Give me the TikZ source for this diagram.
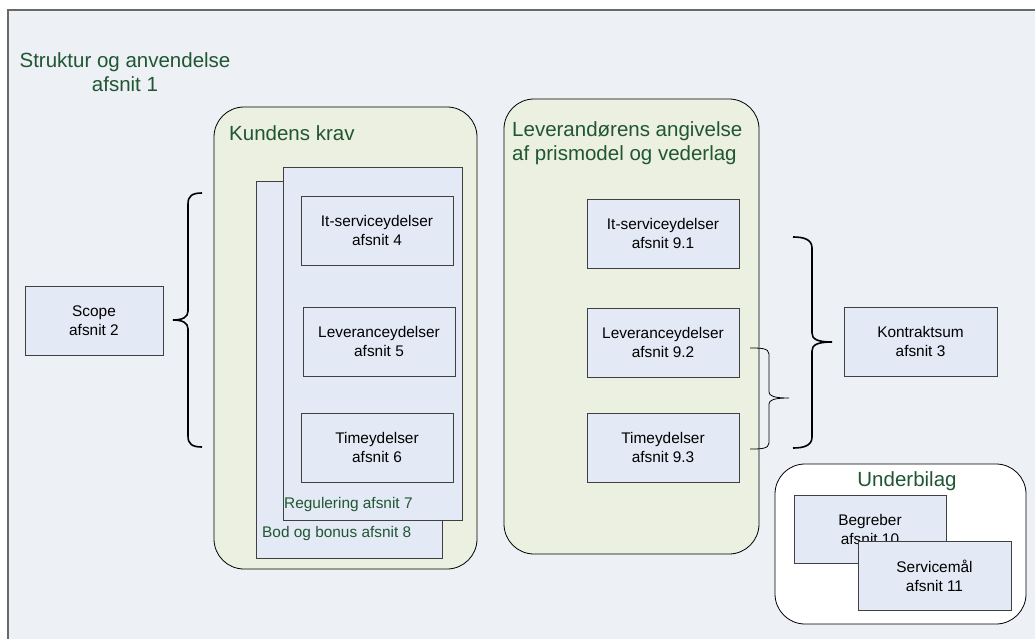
\documentclass[tikz,border=0pt]{standalone}
\usepackage{fontspec}
\setmainfont{Liberation Sans}
\definecolor{framefill}{RGB}{237,240,245}
\definecolor{greenfill}{RGB}{235,240,224}
\definecolor{boxfill}{RGB}{227,233,245}
\definecolor{titlegreen}{RGB}{32,86,50}
\definecolor{framedraw}{RGB}{105,105,105}
\begin{document}
\begin{tikzpicture}[x=1pt,y=-1pt,
  box/.style={draw=black!75,line width=0.8pt,fill=boxfill,minimum width=152pt,minimum height=69pt,align=center,inner sep=0pt,font=\fontsize{15.4}{19}\selectfont},
  sheet/.style={draw=black!75,line width=0.8pt,fill=boxfill,inner sep=0pt},
  group/.style={draw=black,line width=0.8pt,fill=greenfill,rounded corners=30pt,inner sep=0pt},
  bigtitle/.style={text=titlegreen,font=\fontsize{20.5}{24}\selectfont,inner sep=0pt},
  smalltitle/.style={text=titlegreen,font=\fontsize{15.4}{19}\selectfont,inner sep=0pt},
  bracethick/.style={draw=black,line width=1.6pt},
  bracethin/.style={draw=black,line width=0.8pt}]
\useasboundingbox (0,0) rectangle (1035,639);
\begin{scope}
\clip (0,0) rectangle (1035,639);
\draw[framedraw,line width=2pt,fill=framefill] (8,10) rectangle (1050,660);
\end{scope}
\node[bigtitle,align=center] (title) at (125,72) {Struktur og anvendelse\\afsnit 1};
% Kundens krav
\node[group,minimum width=263pt,minimum height=462pt] (kunden) at (345.5,338) {};
\node[bigtitle,anchor=west] (kundenlbl) at (229,133) {Kundens krav};
\node[sheet,minimum width=186pt,minimum height=377pt] (bod) at (349,369.5) {};
\node[sheet,minimum width=179pt,minimum height=353pt] (reg) at (372.5,343.5) {};
\node[smalltitle,anchor=west] (regl) at (284,505) {Regulering afsnit 7};
\node[smalltitle,anchor=west] (bodl) at (262,534) {Bod og bonus afsnit 8};
\node[box] (it4) at (377,230.5) {It-serviceydelser\\afsnit 4};
\node[box] (lev5) at (379,341.5) {Leveranceydelser\\afsnit 5};
\node[box] (time6) at (377,447.5) {Timeydelser\\afsnit 6};
% Leverandoer
\node[group,minimum width=255pt,minimum height=455pt] (lever) at (631.5,326.5) {};
\node[bigtitle,anchor=west,align=left] (leverlbl) at (512,143.5) {Leverandørens angivelse\\af prismodel og vederlag};
\node[box] (it91) at (663,233.5) {It-serviceydelser\\afsnit 9.1};
\node[box] (lev92) at (663,342.5) {Leveranceydelser\\afsnit 9.2};
\node[box] (time93) at (663,447.5) {Timeydelser\\afsnit 9.3};
% Scope
\node[box,minimum width=138pt] (scope) at (94,320.5) {Scope\\afsnit 2};
% Kontraktsum
\node[box,minimum width=153pt] (kontrakt) at (920.5,341.5) {Kontraktsum\\afsnit 3};
% Underbilag
\node[group,fill=white,minimum width=251pt,minimum height=160pt] (under) at (900.5,544) {};
\node[bigtitle] (underlbl) at (907,481) {Underbilag};
\node[box,minimum height=68pt] (begreber) at (870,529) {Begreber\\afsnit 10};
\node[box,minimum width=153pt] (service) at (934.5,575.5) {Servicemål\\afsnit 11};
% braces
\coordinate (lb1) at (202,193);
\coordinate (lbt) at (173,320);
\coordinate (lb2) at (202,447);
\draw[bracethick] (lb1) .. controls (192,193) and (188,196) .. (188,204) -- (188,311)
  .. controls (188,317) and (183,320) .. (lbt)
  .. controls (183,320) and (188,323) .. (188,329) -- (188,436)
  .. controls (188,444) and (192,447) .. (lb2);
\coordinate (rb1) at (793,237);
\coordinate (rbt) at (832,342);
\coordinate (rb2) at (793,448);
\draw[bracethick] (rb1) .. controls (803,237) and (812,239) .. (812,248) -- (812,333)
  .. controls (812,339) and (817,342) .. (rbt)
  .. controls (817,342) and (812,345) .. (812,351) -- (812,437)
  .. controls (812,446) and (803,448) .. (rb2);
\coordinate (sb1) at (750,348);
\coordinate (sbt) at (789,398);
\coordinate (sb2) at (750,449);
\draw[bracethin] (sb1) .. controls (760,348) and (769,348) .. (769,354) -- (769,392)
  .. controls (769,396) and (774,398) .. (sbt)
  .. controls (774,398) and (769,400) .. (769,404) -- (769,443)
  .. controls (769,449) and (760,449) .. (sb2);
\end{tikzpicture}
\end{document}
